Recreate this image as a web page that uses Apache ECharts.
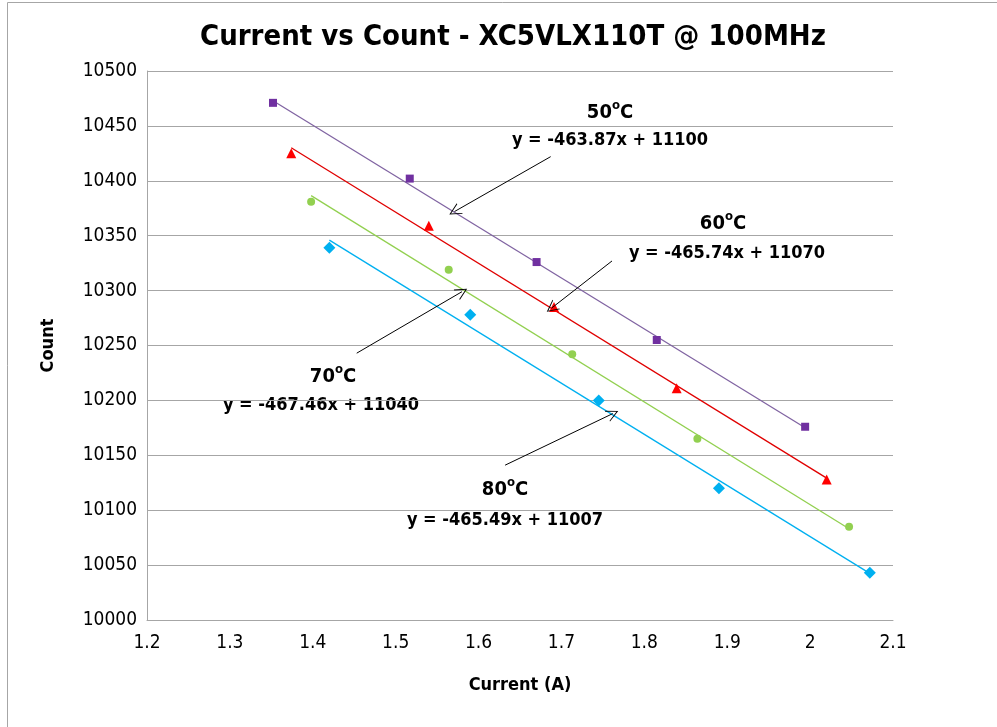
<!DOCTYPE html>
<html><head><meta charset="utf-8">
<script src="https://cdn.jsdelivr.net/npm/echarts@6/dist/echarts.min.js"></script>
<style>html,body{margin:0;padding:0;background:#fff}#c{width:997px;height:727px}</style>
</head><body><div id="c"></div>
<script>
const seriesNames = ['50°C', '60°C', '70°C', '80°C'];
const current50 = [1.352, 1.517, 1.670, 1.815, 1.994];
const count50 = [10471, 10402, 10326, 10255, 10176];
const current60 = [1.374, 1.540, 1.691, 1.839, 2.020];
const count60 = [10425, 10359, 10285, 10211, 10128];
const current70 = [1.398, 1.564, 1.713, 1.864, 2.047];
const count70 = [10381, 10319, 10242, 10165, 10085];
const current80 = [1.420, 1.590, 1.745, 1.890, 2.072];
const count80 = [10339, 10278, 10200, 10120, 10043];
const slopes = [-463.87, -465.74, -467.46, -465.49];
const intercepts = [11100, 11070, 11040, 11007];
const xTicks = [1.2, 1.3, 1.4, 1.5, 1.6, 1.7, 1.8, 1.9, 2, 2.1];
const yTicks = [10000, 10050, 10100, 10150, 10200, 10250, 10300, 10350, 10400, 10450, 10500];
// arrow annotations: [tail, head] in data coords
const arrows = [
  [[1.687, 10422], [1.571, 10372]],
  [[1.761, 10327], [1.688, 10284]],
  [[1.453, 10243], [1.580, 10299]],
  [[1.632, 10141], [1.762, 10188]]
];
const tempLabels = ['50', '60', '70', '80'];

const currents = [current50, current60, current70, current80];
const counts = [count50, count60, count70, count80];
const markerColors = ['#7030A0', '#FF0000', '#92D050', '#00B0F0'];
const lineColors = ['#8064A2', '#E00000', '#92D050', '#00B0F0'];
const symbols = ['rect', 'triangle', 'circle', 'diamond'];
const symbolSizes = [8, 10, 8, 12];

const FONT = '"Liberation Sans Narrow", "DejaVu Sans Condensed", "Liberation Sans", sans-serif';

const series = [];
for (let i = 0; i < 4; i++) {
  const pts = currents[i].map((x, j) => [x, counts[i][j]]);
  series.push({
    name: seriesNames[i], type: 'scatter', data: pts,
    symbol: symbols[i], symbolSize: symbolSizes[i],
    itemStyle: { color: markerColors[i], opacity: 1 }, z: 3
  });
  const xmin = Math.min(...currents[i]), xmax = Math.max(...currents[i]);
  series.push({
    type: 'line', data: [[xmin, slopes[i] * xmin + intercepts[i]], [xmax, slopes[i] * xmax + intercepts[i]]],
    showSymbol: false, symbol: 'none', lineStyle: { color: lineColors[i], width: 1.3 }, z: 2, silent: true
  });
}
series.push({
  type: 'line', data: [], silent: true,
  markLine: {
    silent: true, animation: false,
    symbol: ['none', 'path://M0,12 L6,0 L12,12 L11,12 L6,2 L1,12 Z'],
    symbolSize: [12, 12],
    lineStyle: { color: '#000', width: 1, type: 'solid' },
    label: { show: false },
    data: arrows.map(a => [{ coord: a[0] }, { coord: a[1] }])
  }
});

const labelPos = [
  [610, 111, 610, 140],
  [723, 222, 727, 253],
  [333, 375, 321, 405],
  [505, 488, 505, 520]
];
const graphics = [
  { type: 'rect', shape: { x: 7.5, y: 2.5, width: 1200, height: 1000 }, style: { fill: 'none', stroke: '#A6A6A6', lineWidth: 1 }, silent: true }
];
for (let i = 0; i < 4; i++) {
  const p = labelPos[i];
  graphics.push({
    type: 'text', x: p[0], y: p[1], silent: true,
    style: {
      text: '{m|' + tempLabels[i] + '}{s|o}{m|C}', align: 'center', verticalAlign: 'middle',
      rich: {
        m: { fontSize: 20, fontWeight: 'bold', fontFamily: FONT, fill: '#000', lineHeight: 24, verticalAlign: 'bottom' },
        s: { fontSize: 13, fontWeight: 'bold', fontFamily: FONT, fill: '#000', lineHeight: 13, verticalAlign: 'top' }
      }
    }
  });
  graphics.push({
    type: 'text', silent: true, x: p[2], y: p[3],
    style: {
      text: 'y = ' + slopes[i].toFixed(2) + 'x + ' + intercepts[i],
      align: 'center', verticalAlign: 'middle', fill: '#000', font: 'bold 18px ' + FONT
    }
  });
}

const chart = echarts.init(document.getElementById('c'), null, { renderer: 'canvas' });
chart.setOption({
  animation: false,
  backgroundColor: '#fff',
  title: {
    text: 'Current vs Count - XC5VLX110T @ 100MHz', left: 195, top: 18,
    textStyle: { fontFamily: FONT, fontWeight: 'bold', fontSize: 29, color: '#000' }
  },
  grid: { left: 147, right: 104, top: 71, bottom: 107, containLabel: false },
  xAxis: {
    type: 'value', min: 1.2, max: 2.1, interval: 0.1,
    name: 'Current (A)', nameLocation: 'middle', nameGap: 56,
    nameTextStyle: { fontFamily: FONT, fontWeight: 'bold', fontSize: 18, color: '#000' },
    axisLine: { show: true, lineStyle: { color: '#A6A6A6', width: 1 } },
    axisTick: { show: false }, splitLine: { show: false },
    axisLabel: { margin: 14, fontFamily: FONT, fontSize: 19, color: '#000',
      formatter: v => { const t = xTicks.find(k => Math.abs(k - v) < 1e-6); return t !== undefined ? String(t) : ''; } }
  },
  yAxis: {
    type: 'value', min: 10000, max: 10500, interval: 50,
    name: 'Count', nameLocation: 'middle', nameGap: 90, nameRotate: 90,
    nameTextStyle: { fontFamily: FONT, fontWeight: 'bold', fontSize: 18, color: '#000' },
    axisLine: { show: true, lineStyle: { color: '#A6A6A6', width: 1 } },
    axisTick: { show: false },
    splitLine: { show: true, lineStyle: { color: '#A6A6A6', width: 1 } },
    axisLabel: { margin: 10, fontFamily: FONT, fontSize: 19, color: '#000',
      formatter: v => { const t = yTicks.find(k => Math.abs(k - v) < 1e-6); return t !== undefined ? String(t) : ''; } }
  },
  series: series,
  graphic: graphics
});
</script></body></html>
